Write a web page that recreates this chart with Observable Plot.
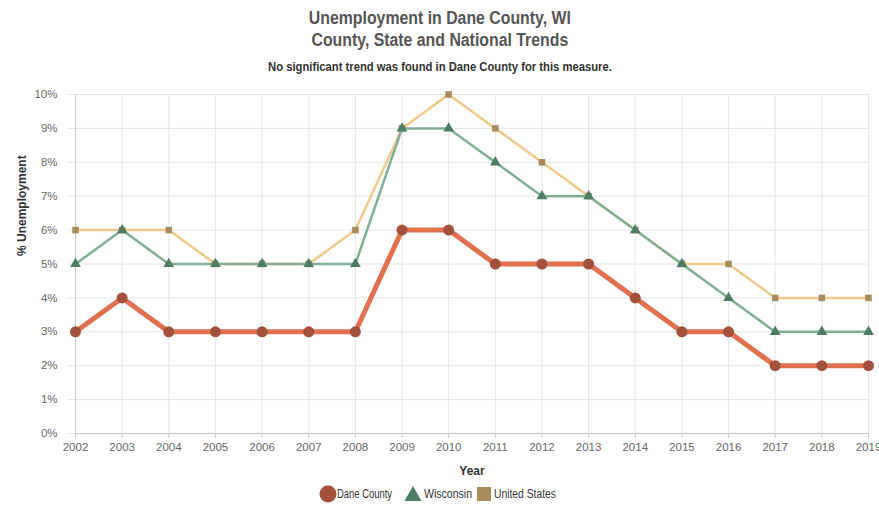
<!DOCTYPE html>
<html>
<head>
<meta charset="utf-8">
<script src="https://cdn.jsdelivr.net/npm/d3@7"></script>
<script src="https://cdn.jsdelivr.net/npm/@observablehq/plot@0.6"></script>
<style>
  body { margin: 0; background: #fff; font-family: "Liberation Sans", Arial, sans-serif; }
  #wrap { width: 879px; }
  .t1 { text-align: center; font-weight: bold; font-size: 18px; color: #555; line-height: 22px; }
  .t1.first { padding-top: 7px; }
  .t1 span { display: inline-block; transform: scaleX(0.88); }
  .sub { text-align: center; font-weight: bold; font-size: 12.5px; color: #333; margin-top: 9px; height: 20px; }
  .sub span { display: inline-block; transform: scaleX(0.9); }
  #legend { display: block; }
  svg text { font-family: "Liberation Sans", Arial, sans-serif; }
</style>
</head>
<body>
<div id="wrap">
  <div class="t1 first"><span>Unemployment in Dane County, WI</span></div>
  <div class="t1"><span>County, State and National Trends</span></div>
  <div class="sub"><span>No significant trend was found in Dane County for this measure.</span></div>
  <div id="chart"></div>
  <svg id="legend" width="879" height="26"></svg>
</div>
<script>
const years = [2002,2003,2004,2005,2006,2007,2008,2009,2010,2011,2012,2013,2014,2015,2016,2017,2018,2019];
const daneCounty = [3,4,3,3,3,3,3,6,6,5,5,5,4,3,3,2,2,2];
const wisconsin  = [5,6,5,5,5,5,5,9,9,8,7,7,6,5,4,3,3,3];
const unitedStates = [6,6,6,5,5,5,6,9,10,9,8,7,6,5,5,4,4,4];
const yTicks = [0,1,2,3,4,5,6,7,8,9,10];
const seriesNames = ["Dane County", "Wisconsin", "United States"];

const toRows = (vals) => years.map((y, i) => ({year: y, value: vals[i]}));
const dane = toRows(daneCounty), wi = toRows(wisconsin), us = toRows(unitedStates);

const chart = Plot.plot({
  width: 879,
  height: 400,
  marginLeft: 75,
  marginRight: 11,
  marginTop: 14,
  marginBottom: 47,
  style: {fontSize: "11.5px", color: "#666", fontFamily: "'Liberation Sans', Arial, sans-serif"},
  x: {domain: [2002, 2019]},
  y: {domain: [0, 10]},
  marks: [
    Plot.gridY(yTicks, {stroke: "#e6e6e6", strokeOpacity: 1}),
    Plot.gridX(years, {stroke: "#e6e6e6", strokeOpacity: 1}),
    Plot.ruleX([2002], {stroke: "#c8c8c8"}),
    Plot.ruleY([0], {stroke: "#c8c8c8"}),
    Plot.axisY(yTicks, {tickSize: 7, stroke: "#e6e6e6", tickPadding: 11, tickFormat: d => d + "%", label: null, fill: "#666"}),
    Plot.axisX(years, {tickSize: 5, stroke: "#c8c8c8", tickPadding: 4, tickFormat: d => String(d), label: null, fill: "#666"}),
    Plot.text(["Year"], {frameAnchor: "bottom", dy: 38, lineAnchor: "middle", fontWeight: "bold", fill: "#333", fontSize: 12}),
    Plot.text(["% Unemployment"], {frameAnchor: "left", dx: -53, dy: -8, rotate: -90, lineAnchor: "middle", fontWeight: "bold", fill: "#333", fontSize: 12}),
    Plot.line(us, {x: "year", y: "value", stroke: "#f2c98a", strokeWidth: 2.5}),
    Plot.dot(us, {x: "year", y: "value", symbol: "square", r: 3.7, fill: "#a88c5c", stroke: "none"}),
    Plot.line(wi, {x: "year", y: "value", stroke: "#7fb094", strokeWidth: 2.5}),
    Plot.dot(wi, {x: "year", y: "value", symbol: "triangle", r: 4, fill: "#4e7d64", stroke: "none"}),
    Plot.line(dane, {x: "year", y: "value", stroke: "#e0704f", strokeWidth: 5}),
    Plot.dot(dane, {x: "year", y: "value", symbol: "circle", r: 5.5, fill: "#a3503c", stroke: "none"})
  ]
});
document.getElementById("chart").appendChild(chart);

// legend
const NS = "http://www.w3.org/2000/svg";
const lg = document.getElementById("legend");
const cy = 14;
const symX = [328, 413, 484];
const textX = [337, 424, 494];
const textW = [55, 48, 62];
const mk = (tag, attrs) => { const e = document.createElementNS(NS, tag); for (const k in attrs) e.setAttribute(k, attrs[k]); lg.appendChild(e); return e; };
mk("circle", {cx: symX[0], cy: cy, r: 8.5, fill: "#a3503c"});
mk("path", {d: `M${symX[1]} ${cy-8} L${symX[1]+8.5} ${cy+7} L${symX[1]-8.5} ${cy+7} Z`, fill: "#4e7d64"});
mk("rect", {x: symX[2]-7, y: cy-7, width: 14, height: 14, fill: "#a88c5c"});
seriesNames.forEach((name, i) => {
  const t = mk("text", {x: textX[i], y: cy, "dominant-baseline": "central", "font-size": 12.5, fill: "#333", textLength: textW[i], lengthAdjust: "spacingAndGlyphs"});
  t.textContent = name;
});
</script>
</body>
</html>
